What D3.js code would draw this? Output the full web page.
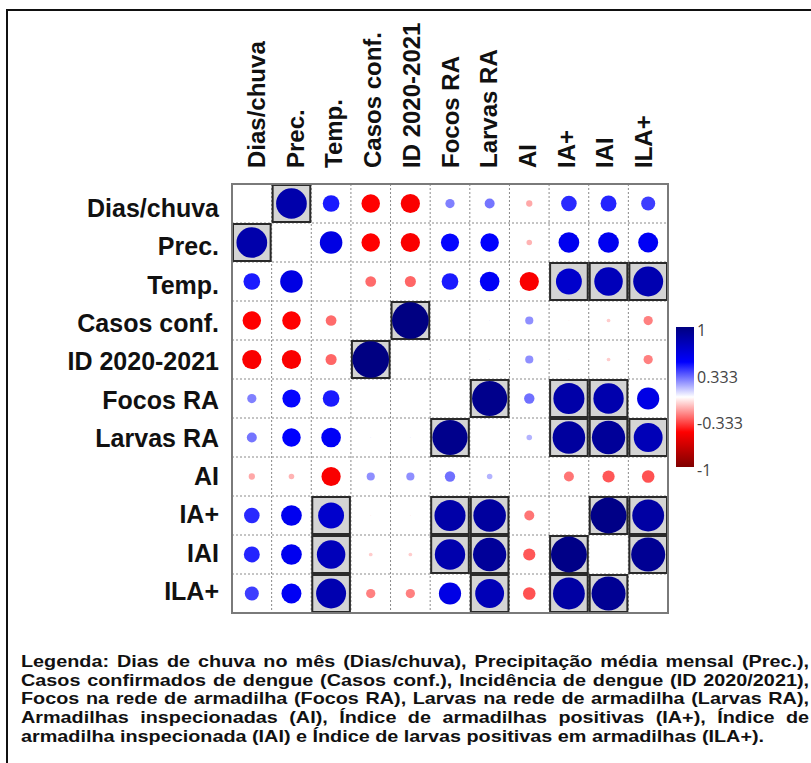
<!DOCTYPE html>
<html>
<head>
<meta charset="utf-8">
<script src="https://cdnjs.cloudflare.com/ajax/libs/d3/7.8.5/d3.min.js"></script>
<style>
  body { margin: 0; background: #fff; }
  svg { display: block; }
</style>
</head>
<body>
<div id="chart"></div>
<script>
// variable names (rows and columns of the matrix)
var vars = ["Dias/chuva", "Prec.", "Temp.", "Casos conf.", "ID 2020-2021",
            "Focos RA", "Larvas RA", "AI", "IA+", "IAI", "ILA+"];

// correlation matrix (diagonal not drawn)
var corr = [
  [ 1.00,  0.83,  0.45, -0.50, -0.52,  0.25,  0.27, -0.17,  0.42,  0.43,  0.38],
  [ 0.83,  1.00,  0.61, -0.50, -0.52,  0.49,  0.50, -0.15,  0.56,  0.56,  0.54],
  [ 0.45,  0.61,  1.00, -0.29, -0.30,  0.45,  0.53, -0.52,  0.70,  0.77,  0.81],
  [-0.50, -0.50, -0.29,  1.00,  0.99,  0.01,  0.03,  0.22, -0.03, -0.10, -0.25],
  [-0.52, -0.52, -0.30,  0.99,  1.00,  0.01,  0.03,  0.22, -0.03, -0.10, -0.25],
  [ 0.25,  0.49,  0.45,  0.01,  0.01,  1.00,  0.95,  0.28,  0.84,  0.82,  0.60],
  [ 0.27,  0.50,  0.53,  0.03,  0.03,  0.95,  1.00,  0.15,  0.88,  0.90,  0.78],
  [-0.17, -0.15, -0.52,  0.22,  0.22,  0.28,  0.15,  1.00, -0.27, -0.33, -0.34],
  [ 0.42,  0.56,  0.70, -0.03, -0.03,  0.84,  0.88, -0.27,  1.00,  0.97,  0.86],
  [ 0.43,  0.56,  0.77, -0.10, -0.10,  0.82,  0.90, -0.33,  0.97,  1.00,  0.92],
  [ 0.38,  0.54,  0.81, -0.25, -0.25,  0.60,  0.78, -0.34,  0.86,  0.92,  1.00]
];

// pairs drawn with a grey box
var boxedPairs = [
  ["Dias/chuva", "Prec."], ["Temp.", "IA+"], ["Temp.", "IAI"], ["Temp.", "ILA+"],
  ["Casos conf.", "ID 2020-2021"], ["Focos RA", "Larvas RA"], ["Focos RA", "IA+"],
  ["Focos RA", "IAI"], ["Larvas RA", "IA+"], ["Larvas RA", "IAI"], ["Larvas RA", "ILA+"],
  ["IA+", "IAI"], ["IA+", "ILA+"], ["IAI", "ILA+"]
];

var legendTicks = [1, 0.333, -0.333, -1];

var captionLines = [
  "Legenda: Dias de chuva no mês (Dias/chuva), Precipitação média mensal (Prec.),",
  "Casos confirmados de dengue (Casos conf.), Incidência de dengue (ID 2020/2021),",
  "Focos na rede de armadilha (Focos RA), Larvas na rede de armadilha (Larvas RA),",
  "Armadilhas inspecionadas (AI), Índice de armadilhas positivas (IA+), Índice de",
  "armadilha inspecionada (IAI) e Índice de larvas positivas em armadilhas (ILA+)."
];

var width = 811, height = 763;
var labelFont = "'Liberation Sans', Arial, Helvetica, sans-serif";

var svg = d3.select("#chart").append("svg")
  .attr("width", width)
  .attr("height", height);

// frame (top and left edges are visible)
svg.append("path")
  .attr("d", "M7," + height + "V10H" + width)
  .attr("fill", "none")
  .attr("stroke", "#111")
  .attr("stroke-width", 2);

var x = d3.scaleBand().domain(vars).range([232, 668]);
var y = d3.scaleBand().domain(vars).range([184, 613]);
var rowLab = d3.scalePoint().domain(vars).range([217, 600]);
var colLab = d3.scalePoint().domain(vars).range([265, 652]);
var radius = d3.scaleLinear().domain([0, 1]).range([0, 18.5]);
var color = d3.scaleLinear()
  .domain([-1, -0.5, 0, 0.5, 1])
  .range(["#7f0000", "#ff0000", "#ffffff", "#0000ff", "#00007f"]);

// cells
var cells = [];
vars.forEach(function(r, i) {
  vars.forEach(function(c, j) {
    cells.push({row: r, col: c, value: corr[i][j], diag: i === j});
  });
});

var boxed = [];
boxedPairs.forEach(function(p) {
  boxed.push({row: p[0], col: p[1]});
  boxed.push({row: p[1], col: p[0]});
});

var mat = svg.append("g");

mat.append("rect")
  .attr("x", x.range()[0]).attr("y", y.range()[0])
  .attr("width", x.range()[1] - x.range()[0])
  .attr("height", y.range()[1] - y.range()[0])
  .attr("fill", "#fff");

// grey boxes
mat.selectAll(".boxbg").data(boxed).enter().append("rect")
  .attr("class", "boxbg")
  .attr("x", function(d) { return x(d.col) + 1; })
  .attr("y", function(d) { return y(d.row) + 1; })
  .attr("width", x.bandwidth() - 2)
  .attr("height", y.bandwidth() - 2)
  .attr("fill", "#d4d4d4");

// dashed grid
var inner = vars.slice(1);
mat.selectAll(".vgrid").data(inner).enter().append("line")
  .attr("x1", function(d) { return x(d); })
  .attr("x2", function(d) { return x(d); })
  .attr("y1", y.range()[0]).attr("y2", y.range()[1])
  .attr("stroke", "#8a8a8a").attr("stroke-width", 1)
  .attr("stroke-dasharray", "2,2");
mat.selectAll(".hgrid").data(inner).enter().append("line")
  .attr("y1", function(d) { return y(d); })
  .attr("y2", function(d) { return y(d); })
  .attr("x1", x.range()[0]).attr("x2", x.range()[1])
  .attr("stroke", "#8a8a8a").attr("stroke-width", 1)
  .attr("stroke-dasharray", "2,2");

// box borders
mat.selectAll(".boxline").data(boxed).enter().append("rect")
  .attr("class", "boxline")
  .attr("x", function(d) { return x(d.col) + 1; })
  .attr("y", function(d) { return y(d.row) + 1; })
  .attr("width", x.bandwidth() - 2)
  .attr("height", y.bandwidth() - 2)
  .attr("fill", "none")
  .attr("stroke", "#2a2a2a")
  .attr("stroke-width", 2);

// circles
mat.selectAll("circle").data(cells.filter(function(d) { return !d.diag; }))
  .enter().append("circle")
  .attr("cx", function(d) { return x(d.col) + x.bandwidth() / 2; })
  .attr("cy", function(d) { return y(d.row) + y.bandwidth() / 2; })
  .attr("r", function(d) { return radius(Math.abs(d.value)); })
  .attr("fill", function(d) { return color(d.value); });

// outer border
mat.append("rect")
  .attr("x", x.range()[0]).attr("y", y.range()[0])
  .attr("width", x.range()[1] - x.range()[0])
  .attr("height", y.range()[1] - y.range()[0])
  .attr("fill", "none")
  .attr("stroke", "#7a7a7a")
  .attr("stroke-width", 2);

// row labels
svg.selectAll(".rowlab").data(vars).enter().append("text")
  .attr("class", "rowlab")
  .attr("x", 219)
  .attr("y", function(d) { return rowLab(d); })
  .attr("text-anchor", "end")
  .style("font-family", labelFont)
  .style("font-weight", "bold")
  .style("font-size", "25px")
  .attr("fill", "#111")
  .text(function(d) { return d; });

// column labels
svg.selectAll(".collab").data(vars).enter().append("text")
  .attr("class", "collab")
  .attr("transform", function(d) { return "translate(" + colLab(d) + ",168) rotate(-90)"; })
  .attr("text-anchor", "start")
  .style("font-family", labelFont)
  .style("font-weight", "bold")
  .style("font-size", "24px")
  .attr("fill", "#111")
  .text(function(d) { return d; });

// colour legend
var ly = d3.scaleLinear().domain([-1, 1]).range([467, 327]);
var grad = svg.append("defs").append("linearGradient")
  .attr("id", "cgrad")
  .attr("x1", 0).attr("y1", 1).attr("x2", 0).attr("y2", 0);
grad.selectAll("stop").data(d3.range(-1, 1.001, 0.1)).enter().append("stop")
  .attr("offset", function(d) { return (d + 1) / 2; })
  .attr("stop-color", function(d) { return color(d); });

svg.append("rect")
  .attr("x", 676).attr("y", ly(1))
  .attr("width", 18).attr("height", ly(-1) - ly(1))
  .attr("fill", "url(#cgrad)");

svg.selectAll(".ltick").data(legendTicks).enter().append("text")
  .attr("class", "ltick")
  .attr("x", 697)
  .attr("y", function(d) { return ly(d) + 9; })
  .style("font-family", "'Open Sans', 'DejaVu Sans', sans-serif")
  .style("font-size", "16px")
  .attr("fill", "#444")
  .text(function(d) { return d; });

// caption, justified like the original (text is a bit wider than tall there)
var capLeft = 21, capRight = 809, capTop = 667, capStep = 18.7, stretch = 1.2;
var cap = svg.append("g")
  .attr("transform", "translate(" + capLeft + ",0) scale(" + stretch + ",1)")
  .style("font-family", labelFont)
  .style("font-weight", "bold")
  .style("font-size", "16.5px")
  .attr("fill", "#111");
var capWidth = (capRight - capLeft) / stretch;

captionLines.forEach(function(line, i) {
  var t = cap.append("text").attr("x", 0).attr("y", capTop + i * capStep);
  if (i === captionLines.length - 1) {
    t.text(line);
    return;
  }
  var words = line.split(" ");
  var widths = words.map(function(w) {
    var tmp = cap.append("text").text(w);
    var wd = tmp.node().getComputedTextLength();
    tmp.remove();
    return wd;
  });
  var space = (capWidth - d3.sum(widths)) / (words.length - 1);
  var pos = 0;
  words.forEach(function(w, k) {
    t.append("tspan").attr("x", pos).text(w);
    pos += widths[k] + space;
  });
});
</script>
</body>
</html>
